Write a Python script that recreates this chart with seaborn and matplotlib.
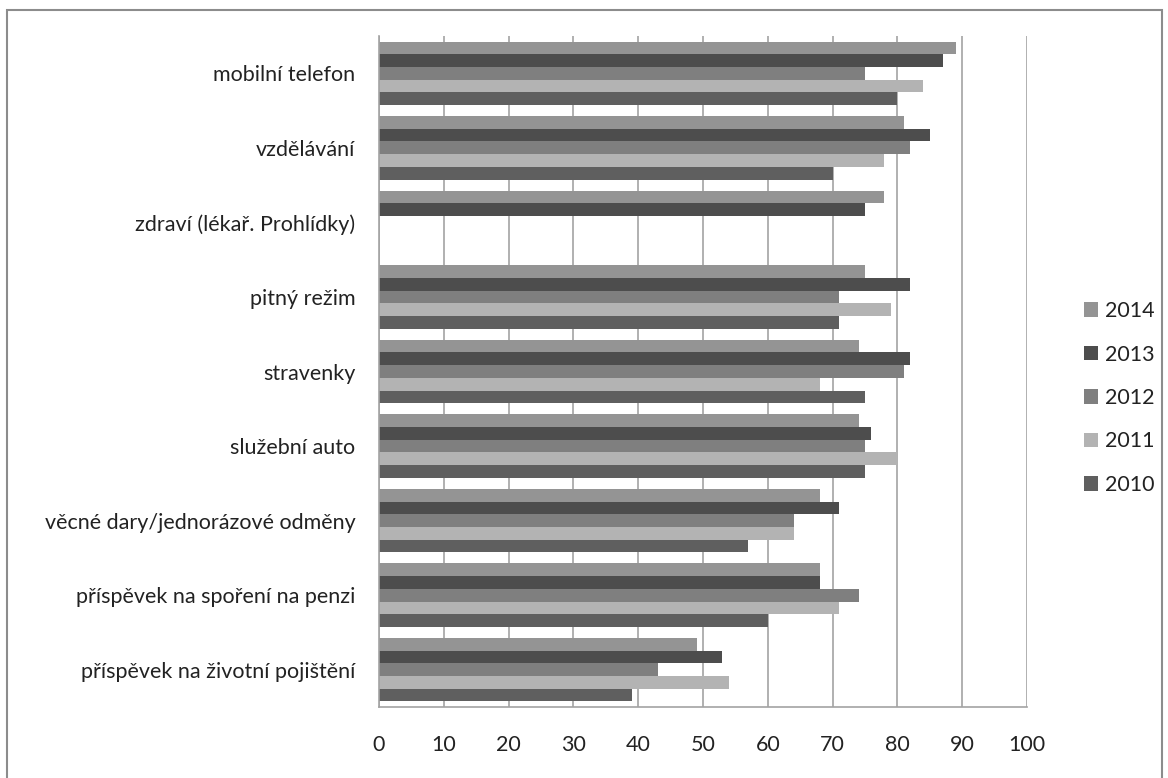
import matplotlib
matplotlib.use("Agg")
import matplotlib.pyplot as plt
import matplotlib.patches as mpatches
import numpy as np
import pandas as pd
import seaborn as sns

# Data
categories = [
    "mobilní telefon",
    "vzdělávání",
    "zdraví (lékař. Prohlídky)",
    "pitný režim",
    "stravenky",
    "služební auto",
    "věcné dary/jednorázové odměny",
    "příspěvek na spoření na penzi",
    "příspěvek na životní pojištění",
]
years = ["2014", "2013", "2012", "2011", "2010"]
values_2014 = [89, 81, 78, 75, 74, 74, 68, 68, 49]
values_2013 = [87, 85, 75, 82, 82, 76, 71, 68, 53]
values_2012 = [75, 82, np.nan, 71, 81, 75, 64, 74, 43]
values_2011 = [84, 78, np.nan, 79, 68, 80, 64, 71, 54]
values_2010 = [80, 70, np.nan, 71, 75, 75, 57, 60, 39]
year_colors = ["#949494", "#4d4d4d", "#7f7f7f", "#b3b3b3", "#5f5f5f"]

series = [values_2014, values_2013, values_2012, values_2011, values_2010]
rows = []
for year, vals in zip(years, series):
    for cat, v in zip(categories, vals):
        rows.append({"kategorie": cat, "rok": year, "hodnota": v})
df = pd.DataFrame(rows)

sns.set_style("white")
plt.rcParams["font.family"] = ["Lato", "DejaVu Sans"]

W, H = 1168, 778
fs = 15.5
fig = plt.figure(figsize=(W / 100, H / 100), dpi=100)
fig.patch.set_facecolor("white")
ax = fig.add_axes([379 / W, 1 - 707 / H, (1027 - 379) / W, (707 - 36) / H])

palette = dict(zip(years, year_colors))
sns.barplot(data=df, y="kategorie", x="hodnota", hue="rok", order=categories,
            hue_order=years, palette=palette, orient="h", width=0.85,
            linewidth=0, saturation=1, legend=False, ax=ax)

ax.set_xlim(0, 100)
ax.set_xticks(range(0, 101, 10))
ax.set_ylim(len(categories) - 0.5, -0.5)
ax.set_yticks(np.arange(len(categories) + 1) - 0.5, minor=True)
ax.set_yticks(range(len(categories)))
ax.set_xlabel("")
ax.set_ylabel("")

grid_c = "#a3a3a3"
ax.grid(True, axis="x", color=grid_c, linewidth=1.2)
ax.set_axisbelow(True)
for s in ["top", "right"]:
    ax.spines[s].set_visible(False)
for s in ["left", "bottom"]:
    ax.spines[s].set_color(grid_c)
    ax.spines[s].set_linewidth(1.2)

ax.tick_params(axis="y", which="major", length=0, pad=17, labelsize=fs,
               labelcolor="#222222")
ax.tick_params(axis="y", which="minor", length=7, color=grid_c, width=1.2)
ax.tick_params(axis="x", length=7, color=grid_c, width=1.2, pad=13,
               labelsize=fs, labelcolor="#222222")

handles = [mpatches.Patch(facecolor=c, edgecolor="none") for c in year_colors]
fig.legend(handles, years, loc="center left", bbox_to_anchor=(1084 / W, 1 - 398 / H),
           frameon=False, fontsize=fs, handlelength=0.65, handleheight=0.65,
           handletextpad=0.33, labelspacing=1.09, borderpad=0, borderaxespad=0,
           labelcolor="#222222")

# outer chart frame
fig.patches.append(mpatches.Rectangle((7 / W, -0.01), (1162 - 7) / W, 1 - 10 / H + 0.01,
                                      transform=fig.transFigure, fill=False,
                                      edgecolor="#8c8c8c", linewidth=1.5))

fig.savefig("out.png", dpi=100, facecolor="white")
